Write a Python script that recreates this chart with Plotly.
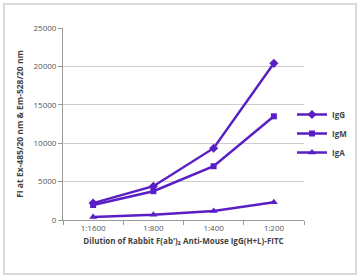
import plotly.graph_objects as go

categories = ["1:1600", "1:800", "1:400", "1:200"]
igg = [2200, 4400, 9350, 20400]
igm = [1950, 3750, 7000, 13500]
iga = [380, 680, 1180, 2320]
series_names = ["IgG", "IgM", "IgA"]
y_ticks = [0, 5000, 10000, 15000, 20000, 25000]

color = "#5a1fc4"
symbols = ["diamond", "square", "triangle-up"]
sizes = [7, 6, 7]

fig = go.Figure()
for name, vals, sym, sz in zip(series_names, [igg, igm, iga], symbols, sizes):
    fig.add_trace(go.Scatter(
        x=categories, y=vals, name=name, mode="lines+markers",
        line=dict(color=color, width=2.5),
        marker=dict(symbol=sym, size=sz, color=color),
    ))

W, H = 360, 280
l, r, t, b = 63, 56, 28, 60
pw, ph = W - l - r, H - t - b

def px(x):
    return (x - l) / pw

def py(y):
    return (H - b - y) / ph

font = "Open Sans, Liberation Sans, sans-serif"
fig.update_layout(
    width=W, height=H,
    margin=dict(l=l, r=r, t=t, b=b, autoexpand=False),
    paper_bgcolor="white", plot_bgcolor="white",
    font=dict(family=font, size=8, color="#555555"),
    showlegend=True,
    legend=dict(x=px(352), y=py(100), xanchor="right", yanchor="top",
                font=dict(size=8, color="#444444", family=font, weight="bold"),
                itemwidth=30, borderwidth=0,
                bgcolor="rgba(0,0,0,0)", tracegroupgap=0),
    xaxis=dict(
        type="category", showgrid=False, showline=True, linecolor="#999999",
        linewidth=1, ticks="outside", tickson="boundaries", ticklen=4,
        tickcolor="#999999", tickfont=dict(size=8, color="#555555"),
        range=[-0.5, 3.5],
        title=dict(text="Dilution of Rabbit F(ab')₂ Anti-Mouse IgG(H+L)-FITC",
                   font=dict(size=8, color="#444444", weight="bold"), standoff=6),
    ),
    yaxis=dict(
        range=[0, 25000], tickvals=y_ticks, tickformat="d", showgrid=True,
        gridcolor="#cccccc", gridwidth=1, showline=True, linecolor="#999999",
        linewidth=1, ticks="outside", ticklen=4, tickcolor="#999999",
        tickfont=dict(size=8, color="#555555"), zeroline=False,
        title=dict(text="FI at Ex-485/20 nm & Em-528/20 nm",
                   font=dict(size=8.5, color="#444444", weight="bold"), standoff=8),
    ),
    shapes=[dict(type="rect", xref="paper", yref="paper",
                 x0=px(4), x1=px(356), y0=py(274), y1=py(4),
                 line=dict(color="#d9d9d9", width=2), fillcolor="rgba(0,0,0,0)",
                 layer="below")],
)

fig.write_html("out.html", config={"displayModeBar": False},
               post_script="document.body.style.margin='0';")
